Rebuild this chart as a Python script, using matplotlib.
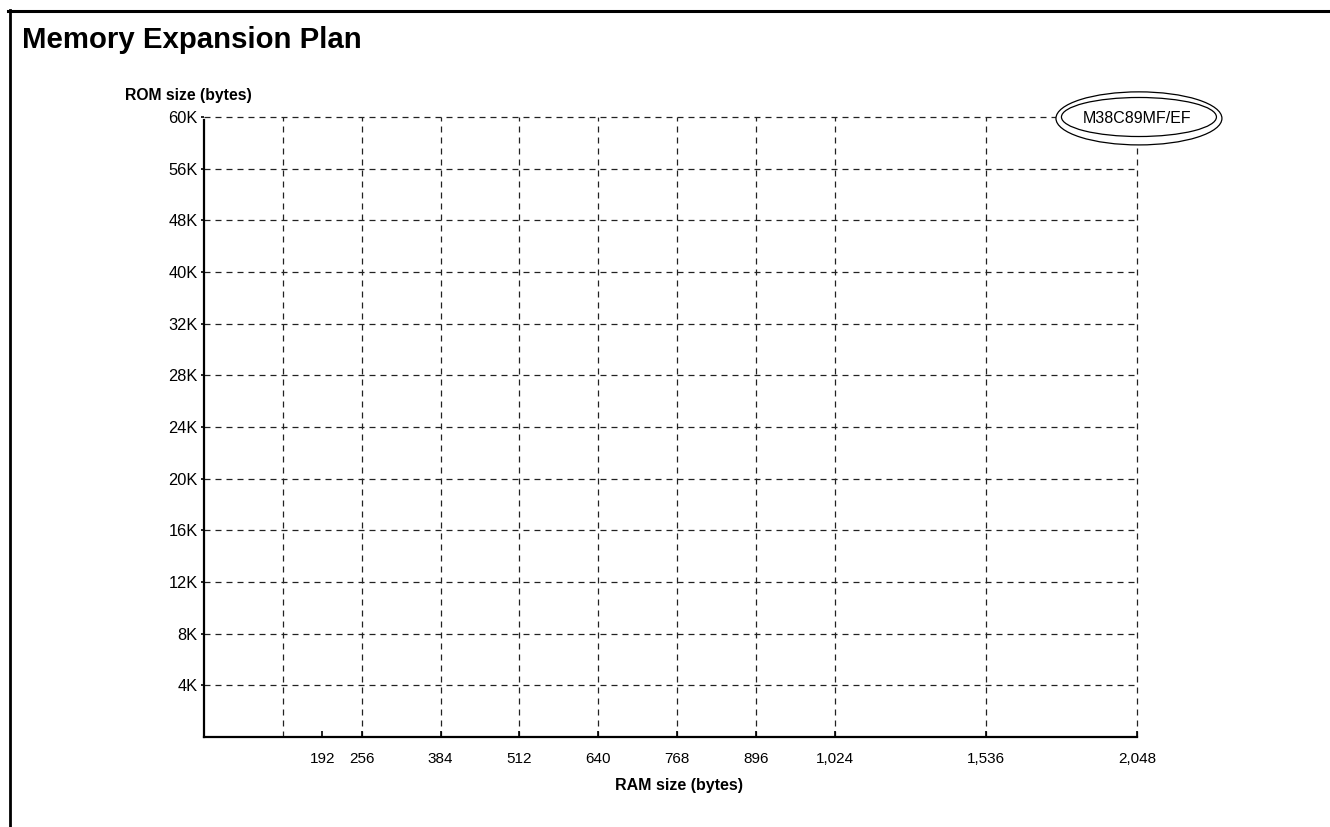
import numpy as np
import matplotlib
matplotlib.use("Agg")
import matplotlib.pyplot as plt
from matplotlib.lines import Line2D
from matplotlib.patches import Ellipse
from matplotlib.offsetbox import DrawingArea, AnnotationBbox

plt.rcParams['font.family'] = ['Liberation Sans', 'DejaVu Sans']

# ---- data ----
title = "Memory Expansion Plan"
rom_labels = ["4K", "8K", "12K", "16K", "20K", "24K", "28K", "32K", "40K", "48K", "56K", "60K"]
ram_grid = [128, 256, 384, 512, 640, 768, 896, 1024, 1536, 2048]
ram_ticks = [192, 256, 384, 512, 640, 768, 896, 1024, 1536, 2048]
ram_tick_labels = ["192", "256", "384", "512", "640", "768", "896", "1,024", "1,536", "2,048"]
product_name = "M38C89MF/EF"
product_ram = 2048
product_rom = "60K"

# piecewise-linear RAM axis (compressed above 1,024 bytes)
def fwd(x):
    x = np.asarray(x, dtype=float)
    return np.where(x <= 1024, x / 128.0, 8.0 + (x - 1024) * (3.83 / 1024))

def inv(u):
    u = np.asarray(u, dtype=float)
    return np.where(u <= 8, u * 128.0, 1024 + (u - 8.0) * (1024 / 3.83))

W, H = 1330, 827
fig = plt.figure(figsize=(W / 100, H / 100), dpi=100)
ax = fig.add_axes([204 / W, 1 - 737 / H, (1137 - 204) / W, (737 - 117) / H])
ax.set_xscale('function', functions=(fwd, inv))
ax.set_xlim(0, 2048)
npos = len(rom_labels)
ax.set_ylim(0, npos)

ypos = np.arange(1, npos + 1)
dash = (0, (4.8, 4.0))
ax.hlines(ypos, 0, 2048, colors='#222222', linewidth=0.9, linestyles=[dash], zorder=1, clip_on=False)
ax.vlines(ram_grid, 0, npos, colors='#222222', linewidth=0.9, linestyles=[dash], zorder=1, clip_on=False)

for s in ['top', 'right']:
    ax.spines[s].set_visible(False)
for s in ['left', 'bottom']:
    ax.spines[s].set_linewidth(1.6)
    ax.spines[s].set_color('black')
ax.spines['left'].set_bounds(0, npos - 0.05)

ax.set_yticks(ypos)
ax.set_yticklabels(rom_labels)
ax.tick_params(axis='y', direction='out', length=2.5, width=1.2, pad=2, labelsize=11.8)
ax.set_xticks(ram_ticks)
ax.set_xticklabels(ram_tick_labels)
ax.tick_params(axis='x', direction='in', length=4.3, width=1.2, pad=10.5, labelsize=11)
ax.xaxis.set_minor_locator(matplotlib.ticker.NullLocator())
ax.yaxis.set_minor_locator(matplotlib.ticker.NullLocator())

# double ellipse product label
da = DrawingArea(124, 42, 0, 0)
da.add_artist(Ellipse((62, 21), 119.5, 38.2, facecolor='white', edgecolor='black', linewidth=0.9))
da.add_artist(Ellipse((62, 22), 111.6, 28.1, facecolor='white', edgecolor='black', linewidth=0.9))
anchor = (product_ram, rom_labels.index(product_rom) + 1)
ab = AnnotationBbox(da, anchor, xycoords='data',
                    xybox=(1.4, -1.0), boxcoords='offset points', frameon=False,
                    box_alignment=(0.5, 0.5), pad=0, zorder=5, annotation_clip=False)
ax.add_artist(ab)
ax.annotate(product_name, anchor, xycoords='data', xytext=(0, -4.3), textcoords='offset points',
            ha='center', va='baseline', fontsize=11.5, zorder=6, annotation_clip=False)

# texts
fig.text(22 / W, 1 - 48 / H, title, fontsize=21.2, fontweight='bold', va='baseline', ha='left')
fig.text(125 / W, 1 - 100 / H, "ROM size (bytes)", fontsize=11.3, fontweight='bold', va='baseline', ha='left')
fig.text(679 / W, 1 - 790 / H, "RAM size (bytes)", fontsize=11.5, fontweight='bold', va='baseline', ha='center')

# frame border
fig.add_artist(Line2D([8 / W, 1.0], [1 - 11 / H, 1 - 11 / H], transform=fig.transFigure, color='black', linewidth=2.2))
fig.add_artist(Line2D([9.5 / W, 9.5 / W], [1 - 10 / H, 0.0], transform=fig.transFigure, color='black', linewidth=2.0))

fig.savefig("out.png", dpi=100)
